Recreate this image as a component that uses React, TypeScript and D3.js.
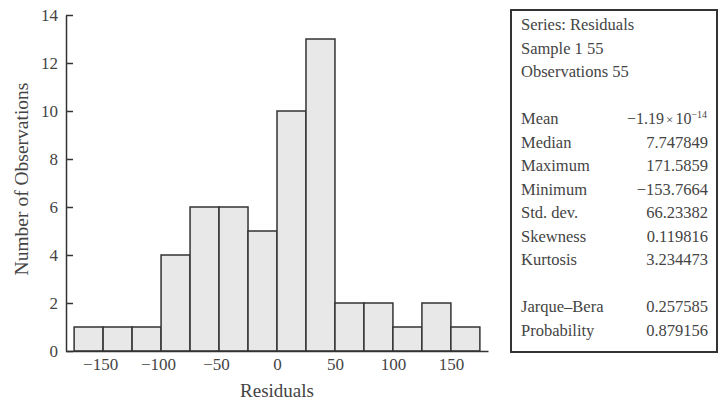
import React, { useEffect, useRef } from "react";
import * as d3 from "d3";

// histogram of residuals, bins of width 25
const binStarts = [-175, -150, -125, -100, -75, -50, -25, 0, 25, 50, 75, 100, 125, 150];
const binCounts = [1, 1, 1, 4, 6, 6, 5, 10, 13, 2, 2, 1, 2, 1];
const binWidth = 25;

const xTicks = [-150, -100, -50, 0, 50, 100, 150];
const yTicks = [0, 2, 4, 6, 8, 10, 12, 14];

const headerLines = ["Series: Residuals", "Sample 1 55", "Observations 55"];
const statNames = ["Mean", "Median", "Maximum", "Minimum", "Std. dev.", "Skewness", "Kurtosis"];
const statValues = ["", "7.747849", "171.5859", "\u2212153.7664", "66.23382", "0.119816", "3.234473"];
const testNames = ["Jarque\u2013Bera", "Probability"];
const testValues = ["0.257585", "0.879156"];

const FONT = "'Liberation Serif', 'Times New Roman', serif";
const INK = "#333";

const App = () => {
  const ref = useRef<SVGSVGElement | null>(null);

  useEffect(() => {
    const svg = d3.select(ref.current);
    svg.selectAll("*").remove();

    const x = d3.scaleLinear().domain([-182, 182]).range([66, 488]);
    const y = d3.scaleLinear().domain([0, 14]).range([351, 15]);

    const g = svg.append("g").style("font-family", FONT);

    // bars
    g.selectAll("rect.bar")
      .data(binStarts)
      .enter()
      .append("rect")
      .attr("class", "bar")
      .attr("x", (d) => x(d))
      .attr("width", (d) => x(d + binWidth) - x(d))
      .attr("y", (d, i) => y(binCounts[i]))
      .attr("height", (d, i) => y(0) - y(binCounts[i]))
      .attr("fill", "#e8e8e8")
      .attr("stroke", INK)
      .attr("stroke-width", 1.5);

    // y axis, ticks pointing inward
    const yAxis = g
      .append("g")
      .attr("transform", "translate(66,0)")
      .call(d3.axisLeft(y).tickValues(yTicks).tickSize(-7).tickSizeOuter(0).tickPadding(8));
    yAxis.selectAll("path, line").attr("stroke", INK).attr("stroke-width", 1.5);
    yAxis.selectAll("text").attr("fill", "#444").style("font-size", "17px").style("font-family", FONT);

    // x axis
    const xAxis = g
      .append("g")
      .attr("transform", "translate(0,351)")
      .call(
        d3
          .axisBottom(x)
          .tickValues(xTicks)
          .tickSize(0)
          .tickSizeOuter(0)
          .tickPadding(7)
          .tickFormat((d) => (+d < 0 ? "\u2212" + Math.abs(+d) : String(d)))
      );
    xAxis.selectAll("path").attr("stroke", INK).attr("stroke-width", 1.5);
    xAxis.selectAll("text").attr("fill", "#444").style("font-size", "17px").style("font-family", FONT);
    xAxis.selectAll("text").filter((d: any) => d < 0).attr("dx", -3);

    // axis titles
    g.append("text")
      .attr("x", 277)
      .attr("y", 397)
      .attr("text-anchor", "middle")
      .attr("fill", "#444")
      .style("font-size", "19px")
      .text("Residuals");

    g.append("text")
      .attr("transform", "translate(28,179) rotate(-90)")
      .attr("text-anchor", "middle")
      .attr("fill", "#444")
      .style("font-size", "19.5px")
      .text("Number of Observations");

    // stats box
    const box = g.append("g");
    box
      .append("rect")
      .attr("x", 511)
      .attr("y", 10)
      .attr("width", 206)
      .attr("height", 342)
      .attr("fill", "white")
      .attr("stroke", INK)
      .attr("stroke-width", 2);

    const rowY = (i: number) => 30 + i * 23.5;
    const left = 521;
    const right = 708;

    const text = (xx: number, row: number, s: string, anchor = "start") =>
      box
        .append("text")
        .attr("x", xx)
        .attr("y", rowY(row))
        .attr("text-anchor", anchor)
        .attr("fill", "#444")
        .style("font-size", "16.5px")
        .text(s);

    headerLines.forEach((s, i) => text(left, i, s));
    statNames.forEach((s, i) => {
      text(left, i + 4, s);
      if (statValues[i]) text(right, i + 4, statValues[i], "end");
    });
    testNames.forEach((s, i) => {
      text(left, i + 12, s);
      text(right, i + 12, testValues[i], "end");
    });

    // mean in scientific notation, kept inside the box
    const mean = box
      .append("text")
      .attr("x", 627)
      .attr("y", rowY(4))
      .attr("fill", "#444")
      .style("font-size", "16px");
    mean.append("tspan").text("\u22121.19");
    mean.append("tspan").attr("dx", 2).style("font-size", "13px").text("\u00d7");
    mean.append("tspan").attr("dx", 2).text("10");
    mean.append("tspan").attr("dy", -6).style("font-size", "10px").text("\u221214");
  }, []);

  return (
    <svg
      ref={ref}
      width={720}
      height={405}
      style={{ position: "absolute", left: 0, top: 0, background: "white" }}
    />
  );
};

export default App;
